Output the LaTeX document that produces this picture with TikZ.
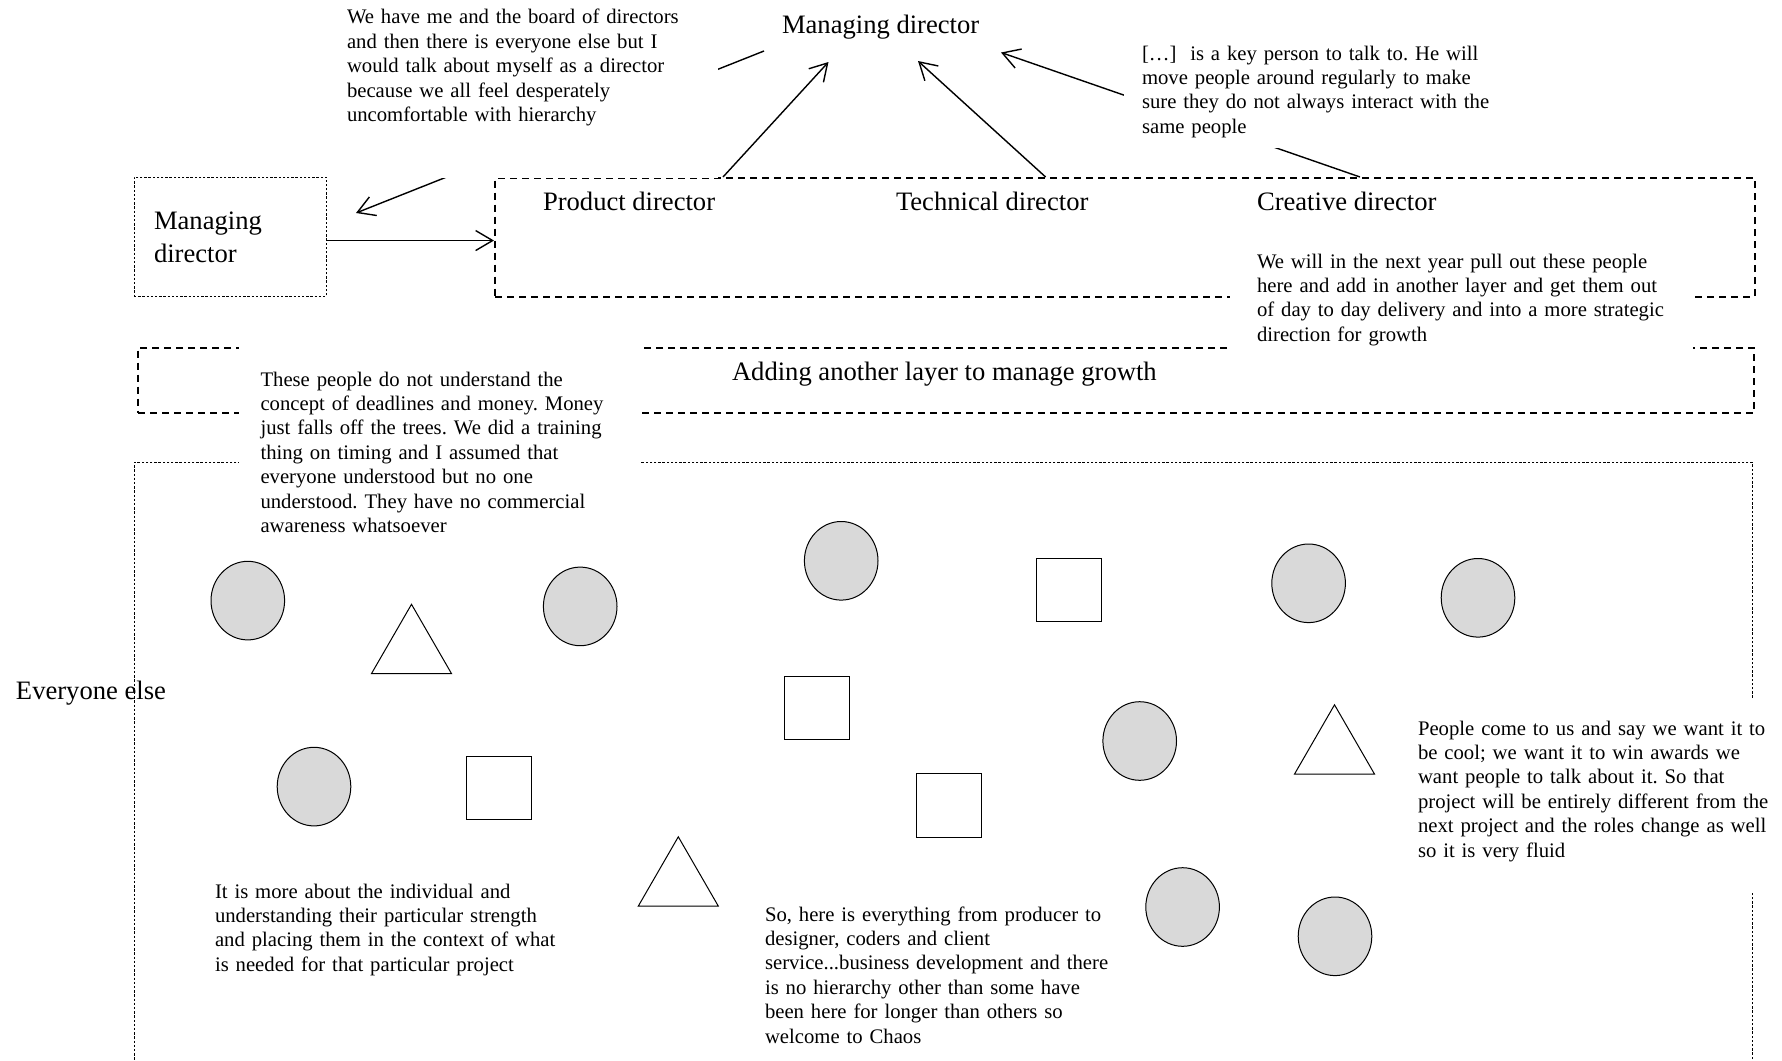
\documentclass[tikz,border=0pt]{standalone}
\usepackage{fontspec}
\setmainfont{Liberation Serif}
\frenchspacing
\usetikzlibrary{arrows.meta,shapes.geometric}
\definecolor{persongray}{RGB}{217,217,217}
\begin{document}
\begin{tikzpicture}[x=0.5pt,y=-0.5pt,
  quote/.style={anchor=base west,inner sep=0pt,outer sep=0pt,align=left,text width=230pt,
    font=\fontsize{10.35pt}{12.2pt}\selectfont},
  bigtext/.style={anchor=base west,inner sep=0pt,outer sep=0pt,align=left,
    font=\fontsize{13.3pt}{16.25pt}\selectfont},
  dashbox/.style={draw,line width=1pt,dash pattern=on 3.5pt off 2.5pt,inner sep=0pt,anchor=north west},
  dotbox/.style={draw,line width=0.55pt,dash pattern=on 1.2pt off 0.9pt,inner sep=0pt,anchor=north west},
  link/.style={line width=0.7pt,-{Straight Barb[length=8.5pt,width=10pt]}},
  person/.style={ellipse,draw,line width=0.5pt,fill=persongray,minimum width=36.8pt,
    minimum height=39.3pt,inner sep=0pt},
  role/.style={rectangle,draw,line width=0.5pt,fill=white,minimum width=32.5pt,
    minimum height=31.75pt,inner sep=0pt},
  task/.style={regular polygon,regular polygon sides=3,draw,line width=0.5pt,fill=white,
    minimum size=46.2pt,inner sep=0pt},
  whiteout/.style={fill=white}
]
\useasboundingbox (0,0) rectangle (1782,1060);
\clip (0,0) rectangle (1782,1060);

% ---- frames ----
\node[dotbox,minimum width=96.25pt,minimum height=59.5pt] (mdbox) at (133.5,176.5) {};
\node[dashbox,minimum width=629.75pt,minimum height=59.25pt] (dirbox) at (494,177) {};
\node[dashbox,minimum width=808pt,minimum height=32.5pt] (layerbox) at (137,346.5) {};
\node[dotbox,minimum width=808.75pt,minimum height=319.25pt] (allbox) at (134,461.5) {};

% ---- connectors ----
\coordinate (mdfoot) at (764,51);
\coordinate (mdin) at (356,213);
\coordinate (pdtop) at (723,177);
\coordinate (tdtop) at (1045.6,177);
\coordinate (cdtop) at (1360,177);
\coordinate (mdin1) at (828.5,62);
\coordinate (mdin2) at (918,61);
\coordinate (mdin3) at (1001,52.5);
\draw[link] (mdfoot) -- (mdin);
\draw[link] ([yshift=-2pt]mdbox.east) -- ([yshift=-2pt]mdbox.east -| dirbox.west);
\draw[link] (pdtop) -- (mdin1);
\draw[link] (tdtop) -- (mdin2);
\draw[link] (cdtop) -- (mdin3);

% ---- people ----
\node[person] (c1) at (247.8,600.6) {};
\node[person] (c2) at (580.2,606.4) {};
\node[person] (c3) at (841.2,560.8) {};
\node[person] (c4) at (1308.6,583.3) {};
\node[person] (c5) at (1478,597.8) {};
\node[person] (c6) at (314,786.6) {};
\node[person] (c7) at (1139.7,741) {};
\node[person] (c8) at (1182.6,907) {};
\node[person] (c9) at (1335,936.3) {};
\node[role] (s1) at (498.5,788) {};
\node[role] (s2) at (816.5,708) {};
\node[role] (s3) at (1069,589.8) {};
\node[role] (s4) at (948.5,805.4) {};
\node[task] (t1) at (411.5,650.5) {};
\node[task] (t2) at (678.3,883) {};
\node[task] (t3) at (1334.5,751) {};

% ---- text areas sit on white ----
\fill[whiteout] (330,0) rectangle (718,177.5);
\fill[whiteout] (1124,0) rectangle (1520,147.7);
\fill[whiteout] (1230,255) rectangle (1693,360);
\fill[whiteout] (239,335) rectangle (640,480);
\fill[whiteout] (1405,698) rectangle (1782,893);

% ---- titles ----
\node[bigtext] (mdtop) at (782,33) {Managing director};
\node[bigtext] (mdlabel) at (154,262) {Managing\\director};
\node[bigtext] (pd) at (543,210) {Product director};
\node[bigtext] (td) at (896,210) {Technical director};
\node[bigtext] (cd) at (1257,210) {Creative director};
\node[bigtext] (layer) at (732,380) {Adding another layer to manage growth};
\node[bigtext] (everyone) at (16,699) {Everyone else};

% ---- quotes ----
\node[quote] (qa) at (347,24) {We have me and the board of directors\\
and then there is everyone else but I\\
would talk about myself as a director\\
because we all feel desperately\\
uncomfortable with hierarchy};
\node[quote] (qb) at (1142,60) {[…]\ \ is a key person to talk to. He will\\
move people around regularly to make\\
sure they do not always interact with the\\
same people};
\node[quote] (qc) at (1257,268) {We will in the next year pull out these people\\
here and add in another layer and get them out\\
of day to day delivery and into a more strategic\\
direction for growth};
\node[quote] (qd) at (260.5,386) {These people do not understand the\\
concept of deadlines and money. Money\\
just falls off the trees. We did a training\\
thing on timing and I assumed that\\
everyone understood but no one\\
understood. They have no commercial\\
awareness whatsoever};
\node[quote] (qe) at (215,898) {It is more about the individual and\\
understanding their particular strength\\
and placing them in the context of what\\
is needed for that particular project};
\node[quote] (qf) at (765,921) {So, here is everything from producer to\\
designer, coders and client\\
service...business development and there\\
is no hierarchy other than some have\\
been here for longer than others so\\
welcome to Chaos};
\node[quote] (qg) at (1418,735) {People come to us and say we want it to\\
be cool; we want it to win awards we\\
want people to talk about it. So that\\
project will be entirely different from the\\
next project and the roles change as well\\
so it is very fluid};
\end{tikzpicture}
\end{document}
